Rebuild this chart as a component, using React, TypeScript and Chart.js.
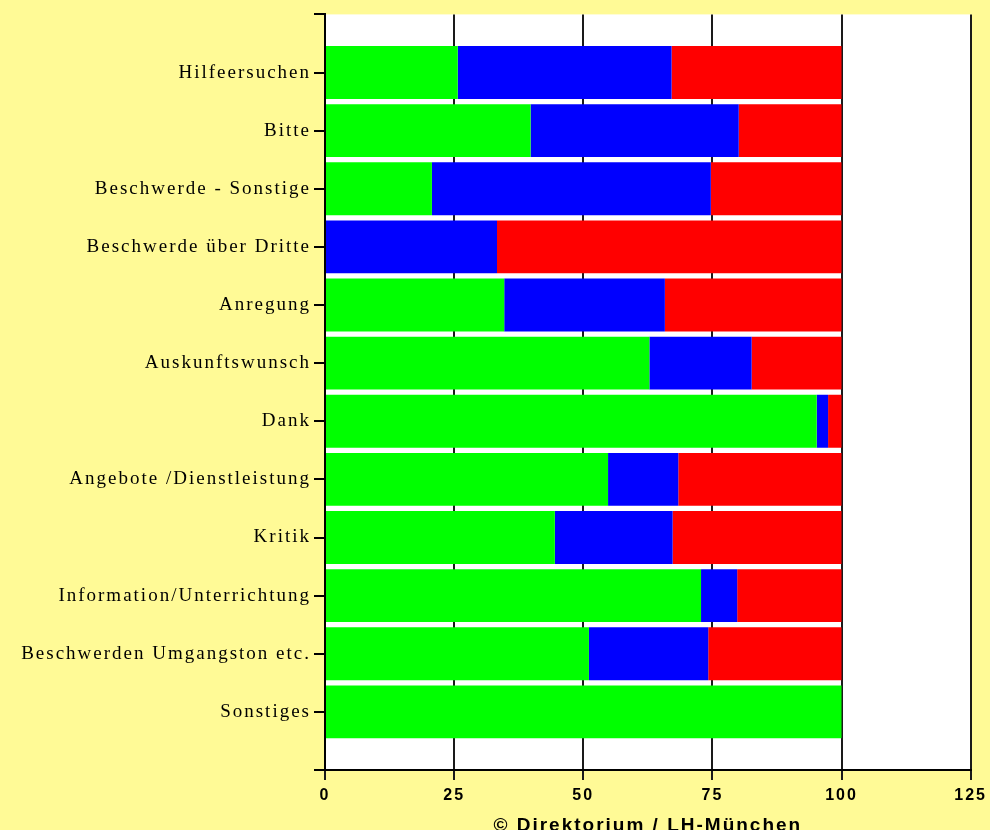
import React, { useEffect, useRef } from "react";
import { Chart, registerables } from "chart.js";

Chart.register(...registerables);

const CATEGORIES = [
  "Hilfeersuchen",
  "Bitte",
  "Beschwerde - Sonstige",
  "Beschwerde über Dritte",
  "Anregung",
  "Auskunftswunsch",
  "Dank",
  "Angebote /Dienstleistung",
  "Kritik",
  "Information/Unterrichtung",
  "Beschwerden Umgangston etc.",
  "Sonstiges",
];

const GREEN_VALUES = [25.7, 39.8, 20.7, 0, 34.7, 62.8, 95.2, 54.8, 44.5, 72.8, 51.1, 100];
const BLUE_VALUES = [41.4, 40.3, 54.0, 33.3, 31.1, 19.8, 2.2, 13.6, 22.8, 7.0, 23.1, 0];
const RED_VALUES = [32.9, 19.9, 25.3, 66.7, 34.2, 17.4, 2.6, 31.6, 32.7, 20.2, 25.8, 0];

const X_MIN = 0;
const X_MAX = 125;
const X_STEP = 25;
const FOOTER = "© Direktorium / LH-München";

const BG = "#FFFA96";

const pad = (arr: number[]) => [null, ...arr, null];

const plotBgPlugin = {
  id: "plotBg",
  beforeDraw(chart: any) {
    const { ctx, chartArea } = chart;
    ctx.save();
    ctx.fillStyle = "#ffffff";
    ctx.fillRect(chartArea.left, chartArea.top, chartArea.right - chartArea.left, chartArea.bottom - chartArea.top);
    ctx.restore();
    (ctx as any).letterSpacing = "2px";
  },
};

export default function App() {
  const ref = useRef<HTMLCanvasElement | null>(null);

  useEffect(() => {
    document.body.style.margin = "0";
    const canvas = ref.current;
    if (!canvas) return;
    const chart = new Chart(canvas, {
      type: "bar",
      data: {
        labels: ["", ...CATEGORIES, ""],
        datasets: [
          { label: "green", data: pad(GREEN_VALUES) as any, backgroundColor: "#00FF00", borderWidth: 0 },
          { label: "blue", data: pad(BLUE_VALUES) as any, backgroundColor: "#0000FF", borderWidth: 0 },
          { label: "red", data: pad(RED_VALUES) as any, backgroundColor: "#FF0000", borderWidth: 0 },
        ],
      },
      options: {
        indexAxis: "y",
        responsive: false,
        animation: false,
        maintainAspectRatio: false,
        layout: { padding: { top: 12, right: 19, bottom: 0, left: 0 } },
        datasets: {
          bar: { categoryPercentage: 1, barPercentage: 0.91 },
        },
        plugins: {
          legend: { display: false },
          tooltip: { enabled: false },
          title: { display: false },
        },
        scales: {
          x: {
            type: "linear",
            stacked: true,
            min: X_MIN,
            max: X_MAX,
            ticks: {
              stepSize: X_STEP,
              color: "#000",
              padding: 6,
              font: { family: "'Liberation Sans', Arial, sans-serif", size: 16, weight: "bold" },
            },
            grid: {
              color: "#1a1a1a",
              lineWidth: 2,
              drawOnChartArea: true,
              drawTicks: true,
              tickLength: 10,
            },
            border: { display: true, color: "#000", width: 2 },
            title: {
              display: true,
              text: FOOTER,
              color: "#000",
              padding: { top: 0, bottom: -7 },
              font: { family: "'Liberation Sans', Arial, sans-serif", size: 19, weight: "bold" },
            },
            afterFit(scale: any) {
              scale.height = 60;
            },
          },
          y: {
            type: "category",
            stacked: true,
            offset: false,
            ticks: {
              autoSkip: false,
              color: "#000",
              padding: 3,
              font: { family: "'Liberation Serif', 'Times New Roman', serif", size: 19 },
            },
            grid: {
              offset: false,
              drawOnChartArea: false,
              drawTicks: true,
              tickLength: 11,
              color: "#000",
              lineWidth: 2,
            },
            border: { display: true, color: "#000", width: 2 },
            afterFit(scale: any) {
              scale.width = 325;
            },
          },
        },
      },
      plugins: [plotBgPlugin],
    });
    return () => chart.destroy();
  }, []);

  return (
    <div style={{ width: 990, height: 830, background: BG }}>
      <canvas ref={ref} width={990} height={830} style={{ display: "block" }} />
    </div>
  );
}
